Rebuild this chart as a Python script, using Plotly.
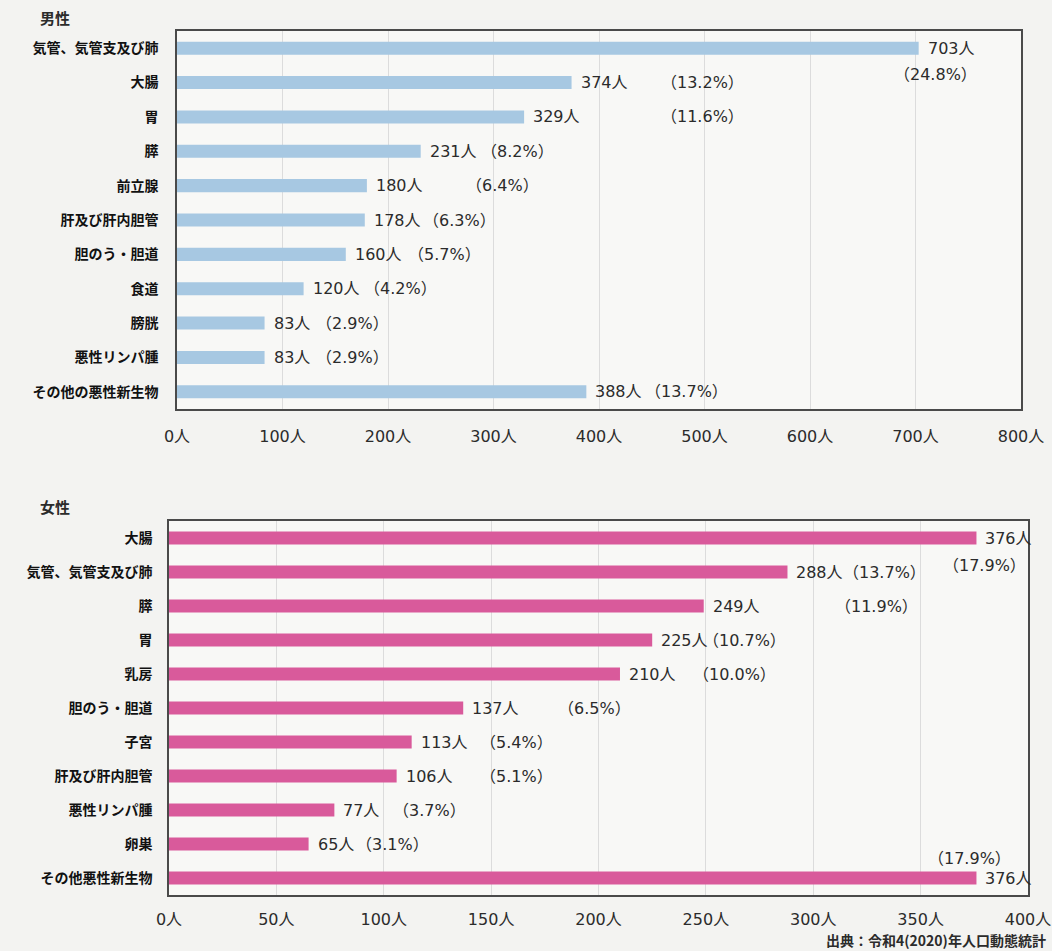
import plotly.graph_objects as go

# ---- data ----
male_categories = ["気管、気管支及び肺", "大腸", "胃", "膵", "前立腺", "肝及び肝内胆管",
                   "胆のう・胆道", "食道", "膀胱", "悪性リンパ腫", "その他の悪性新生物"]
male_values = [703, 374, 329, 231, 180, 178, 160, 120, 83, 83, 388]
male_pct = [24.8, 13.2, 11.6, 8.2, 6.4, 6.3, 5.7, 4.2, 2.9, 2.9, 13.7]

female_categories = ["大腸", "気管、気管支及び肺", "膵", "胃", "乳房", "胆のう・胆道",
                     "子宮", "肝及び肝内胆管", "悪性リンパ腫", "卵巣", "その他悪性新生物"]
female_values = [376, 288, 249, 225, 210, 137, 113, 106, 77, 65, 376]
female_pct = [17.9, 13.7, 11.9, 10.7, 10.0, 6.5, 5.4, 5.1, 3.7, 3.1, 17.9]

male_ticks = [0, 100, 200, 300, 400, 500, 600, 700, 800]
female_ticks = [0, 50, 100, 150, 200, 250, 300, 350, 400]

# ---- label placement (pixel offsets from bar end) ----
male_pct_dx = [-18, 96, 144, 67, 106, 65, 69, 67, 58, 58, 66]
male_pct_dy = [-26, 0, 0, 0, 0, 0, 0, 0, 0, 0, 0]
female_pct_dx = [-26, 63, 138, 58, 80, 102, 75, 90, 66, 54, -41]
female_pct_dy = [-27, 0, 0, 0, 0, 0, 0, 0, 0, 0, 20]

W, H = 1052, 951

def px(X):
    return X / W

def py(Y):
    return 1 - Y / H

FONT = "Noto Sans CJK JP"
NUMFONT = "DejaVu Sans, Noto Sans CJK JP"
TXT = "#2b2b2b"
BLUE = "#a7c8e2"
PINK = "#d95a9b"

fig = go.Figure()
fig.add_trace(go.Bar(y=male_categories, x=male_values, orientation="h",
                     marker=dict(color=BLUE, line=dict(width=0)), width=0.38,
                     xaxis="x", yaxis="y", hoverinfo="x+y"))
fig.add_trace(go.Bar(y=female_categories, x=female_values, orientation="h",
                     marker=dict(color=PINK, line=dict(width=0)), width=0.38,
                     xaxis="x2", yaxis="y2", hoverinfo="x+y"))

ann = []
def add_labels(cats, vals, pcts, dxs, dys, xr, yr):
    for c, v, p, dx, dy in zip(cats, vals, pcts, dxs, dys):
        ann.append(dict(x=v, y=c, xref=xr, yref=yr, text=f"{v}人", showarrow=False,
                        xanchor="left", yanchor="middle", xshift=7,
                        font=dict(family=NUMFONT, size=16, color=TXT)))
        ann.append(dict(x=v, y=c, xref=xr, yref=yr, text=f"（{p:.1f}%）", showarrow=False,
                        xanchor="left", yanchor="middle", xshift=dx - 9, yshift=dy,
                        font=dict(family=NUMFONT, size=16, color=TXT)))

add_labels(male_categories, male_values, male_pct, male_pct_dx, male_pct_dy, "x", "y")
add_labels(female_categories, female_values, female_pct, female_pct_dx, female_pct_dy, "x2", "y2")

ann.append(dict(x=px(38), y=py(18), xref="paper", yref="paper", text="<b>男性</b>",
                showarrow=False, xanchor="left", yanchor="middle",
                font=dict(family=FONT, size=15, color=TXT)))
ann.append(dict(x=px(38), y=py(506), xref="paper", yref="paper", text="<b>女性</b>",
                showarrow=False, xanchor="left", yanchor="middle",
                font=dict(family=FONT, size=15, color=TXT)))
ann.append(dict(x=px(1048), y=py(940), xref="paper", yref="paper",
                text="<b>出典：令和4(2020)年人口動態統計</b>",
                showarrow=False, xanchor="right", yanchor="middle",
                font=dict(family=FONT, size=14, color=TXT)))

axis_common = dict(showline=True, linecolor="#4a4a4a", linewidth=1.5, mirror=True,
                   automargin=False, zeroline=False)
cat_font = dict(family=FONT, size=14, color="#111", weight="bold")
tick_font = dict(family=NUMFONT, size=16, color=TXT)
n_m = len(male_categories)
n_f = len(female_categories)

fig.update_layout(
    width=W, height=H,
    margin=dict(l=0, r=0, t=0, b=0),
    paper_bgcolor="#f3f3f1",
    plot_bgcolor="#f8f8f6",
    showlegend=False,
    bargap=0.6,
    annotations=ann,
    xaxis=dict(domain=[px(177), px(1021)], range=[0, 800], tickvals=male_ticks,
               ticktext=[f"{t}人" for t in male_ticks], showgrid=True,
               gridcolor="#dcdcdc", gridwidth=1, anchor="y", tickfont=tick_font,
               ticklabeloverflow="allow",
               ticks="", ticklabelstandoff=12, **axis_common),
    yaxis=dict(domain=[py(409), py(31)], range=[n_m - 0.5, -0.5], autorange=False,
               anchor="x", type="category",
               showgrid=False, tickfont=cat_font,
               ticks="", ticklabelstandoff=14, **axis_common),
    xaxis2=dict(domain=[px(169), px(1028)], range=[0, 400], tickvals=female_ticks,
                ticktext=[f"{t}人" for t in female_ticks], showgrid=True,
                gridcolor="#dcdcdc", gridwidth=1, anchor="y2", tickfont=tick_font,
                ticklabeloverflow="allow",
                ticks="", ticklabelstandoff=9, **axis_common),
    yaxis2=dict(domain=[py(895), py(521)], range=[n_f - 0.5, -0.5], autorange=False,
                anchor="x2", type="category",
                showgrid=False, tickfont=cat_font,
                ticks="", ticklabelstandoff=12, **axis_common),
)

fig.write_html("out.html", config={"displayModeBar": False},
               post_script="document.body.style.margin='0';document.body.style.overflow='hidden';")
